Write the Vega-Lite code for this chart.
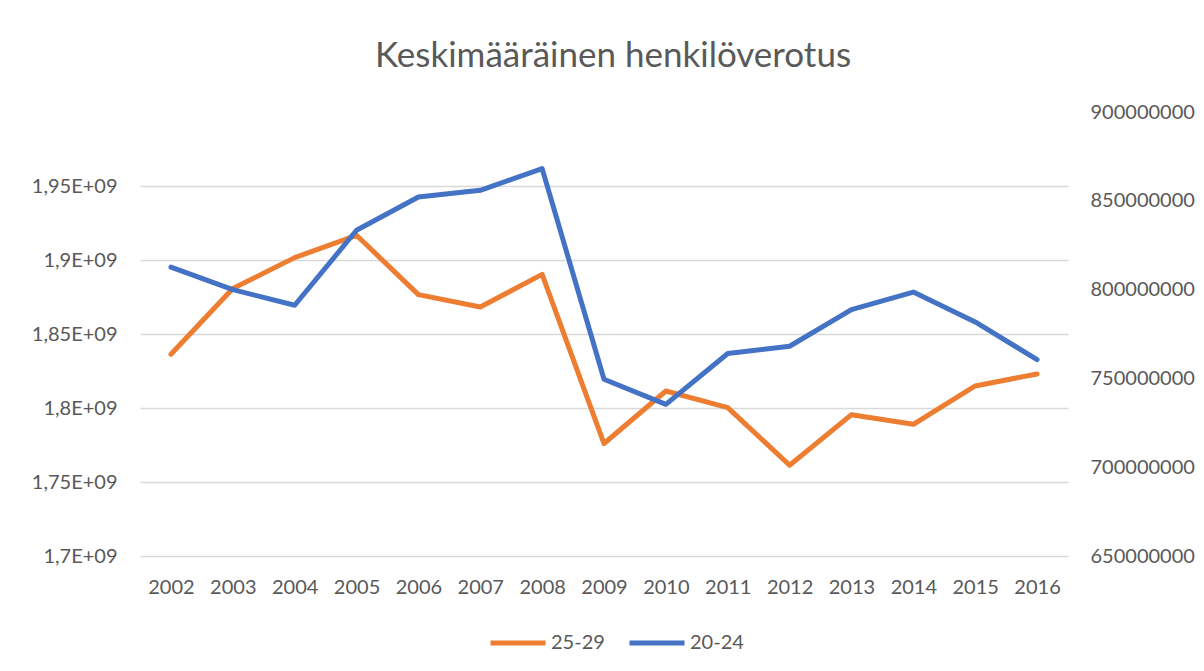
{
  "$schema": "https://vega.github.io/schema/vega-lite/v6.json",
  "width": 928,
  "height": 444,
  "autosize": {"type": "none"},
  "padding": {"left": 140, "top": 112, "right": 136, "bottom": 115},
  "background": "white",
  "config": {
    "font": "Lato",
    "view": {"stroke": null},
    "axis": {"labelFont": "Lato", "labelColor": "#595959", "labelFontSize": 20, "gridColor": "#D9D9D9", "gridWidth": 1.5, "ticks": false, "domain": false},
    "legend": {"labelFont": "Lato"}
  },
  "title": {
    "text": "Keskimääräinen henkilöverotus",
    "font": "Lato",
    "fontSize": 35,
    "fontWeight": "normal",
    "color": "#595959",
    "anchor": "middle",
    "offset": 28,
    "dx": 9
  },
  "data": {
    "values": [
      {"year": "2002", "series": "25-29", "value": 1836300000},
      {"year": "2003", "series": "25-29", "value": 1880700000},
      {"year": "2004", "series": "25-29", "value": 1901600000},
      {"year": "2005", "series": "25-29", "value": 1916700000},
      {"year": "2006", "series": "25-29", "value": 1876600000},
      {"year": "2007", "series": "25-29", "value": 1868200000},
      {"year": "2008", "series": "25-29", "value": 1890300000},
      {"year": "2009", "series": "25-29", "value": 1776000000},
      {"year": "2010", "series": "25-29", "value": 1811500000},
      {"year": "2011", "series": "25-29", "value": 1800300000},
      {"year": "2012", "series": "25-29", "value": 1761300000},
      {"year": "2013", "series": "25-29", "value": 1795500000},
      {"year": "2014", "series": "25-29", "value": 1789000000},
      {"year": "2015", "series": "25-29", "value": 1814900000},
      {"year": "2016", "series": "25-29", "value": 1823000000},
      {"year": "2002", "series": "20-24", "value": 812700000},
      {"year": "2003", "series": "20-24", "value": 800000000},
      {"year": "2004", "series": "20-24", "value": 791200000},
      {"year": "2005", "series": "20-24", "value": 833400000},
      {"year": "2006", "series": "20-24", "value": 852100000},
      {"year": "2007", "series": "20-24", "value": 855900000},
      {"year": "2008", "series": "20-24", "value": 868100000},
      {"year": "2009", "series": "20-24", "value": 749500000},
      {"year": "2010", "series": "20-24", "value": 735400000},
      {"year": "2011", "series": "20-24", "value": 764000000},
      {"year": "2012", "series": "20-24", "value": 768100000},
      {"year": "2013", "series": "20-24", "value": 788700000},
      {"year": "2014", "series": "20-24", "value": 798600000},
      {"year": "2015", "series": "20-24", "value": 781800000},
      {"year": "2016", "series": "20-24", "value": 760600000}
    ]
  },
  "encoding": {
    "x": {
      "field": "year",
      "type": "ordinal",
      "title": null,
      "scale": {"type": "point", "padding": 0.5},
      "axis": {"labelAngle": 0, "labelPadding": 21, "grid": false}
    },
    "color": {
      "field": "series",
      "type": "nominal",
      "scale": {"domain": ["25-29", "20-24"], "range": ["#ED7D31", "#4472C4"]},
      "legend": {
        "title": null,
        "orient": "none",
        "direction": "horizontal",
        "legendX": 348,
        "legendY": 501,
        "symbolType": "stroke",
        "symbolSize": 3025,
        "symbolStrokeWidth": 5,
        "labelFontSize": 20,
        "labelColor": "#595959",
        "labelOffset": 3,
        "columnPadding": 14
      }
    }
  },
  "layer": [
    {
      "transform": [{"filter": "datum.series == '25-29'"}],
      "mark": {"type": "line", "strokeWidth": 5, "strokeCap": "round", "strokeJoin": "round"},
      "encoding": {
        "y": {
          "field": "value",
          "type": "quantitative",
          "title": null,
          "scale": {"domain": [1700000000, 2000000000], "zero": false, "nice": false},
          "axis": {
            "orient": "left",
            "values": [1700000000, 1750000000, 1800000000, 1850000000, 1900000000, 1950000000],
            "labelExpr": "replace(format(datum.value / 1000000000, '.2~f'), '.', ',') + 'E+09'",
            "labelPadding": 23,
            "grid": true
          }
        }
      }
    },
    {
      "transform": [{"filter": "datum.series == '20-24'"}],
      "mark": {"type": "line", "strokeWidth": 5, "strokeCap": "round", "strokeJoin": "round"},
      "encoding": {
        "y": {
          "field": "value",
          "type": "quantitative",
          "title": null,
          "scale": {"domain": [650000000, 900000000], "zero": false, "nice": false},
          "axis": {
            "orient": "right",
            "values": [650000000, 700000000, 750000000, 800000000, 850000000, 900000000],
            "format": "d",
            "labelPadding": 22,
            "grid": false
          }
        }
      }
    }
  ],
  "resolve": {"scale": {"y": "independent"}}
}
